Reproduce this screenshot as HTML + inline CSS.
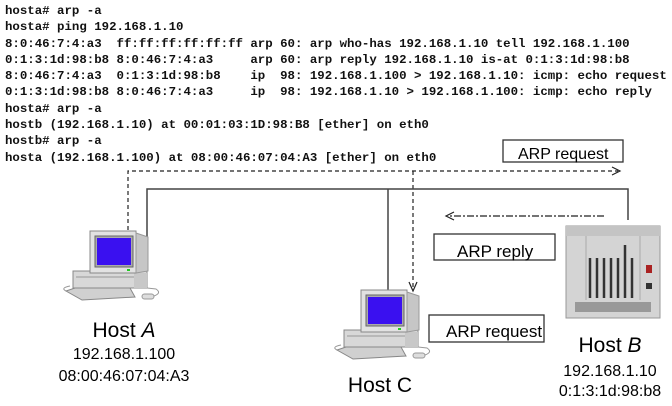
<!DOCTYPE html>
<html><head><meta charset="utf-8"><style>
html,body{margin:0;padding:0;background:#fff;width:672px;height:406px;overflow:hidden}
pre{position:absolute;left:5px;top:3px;margin:0;font-family:"Liberation Mono",monospace;font-weight:bold;font-size:12.4px;line-height:16.3px;color:#111}
svg{position:absolute;left:0;top:0}
</style></head><body>
<pre>hosta# arp -a
hosta# ping 192.168.1.10
8:0:46:7:4:a3  ff:ff:ff:ff:ff:ff arp 60: arp who-has 192.168.1.10 tell 192.168.1.100
0:1:3:1d:98:b8 8:0:46:7:4:a3     arp 60: arp reply 192.168.1.10 is-at 0:1:3:1d:98:b8
8:0:46:7:4:a3  0:1:3:1d:98:b8    ip  98: 192.168.1.100 &gt; 192.168.1.10: icmp: echo request
0:1:3:1d:98:b8 8:0:46:7:4:a3     ip  98: 192.168.1.10 &gt; 192.168.1.100: icmp: echo reply
hosta# arp -a
hostb (192.168.1.10) at 00:01:03:1D:98:B8 [ether] on eth0
hostb# arp -a
hosta (192.168.1.100) at 08:00:46:07:04:A3 [ether] on eth0</pre>
<svg width="672" height="406" font-family="Liberation Sans, sans-serif">
<defs>
<g id="pc">
 <rect x="-17" y="40" width="74" height="17" fill="#d8d8d8" stroke="#888"/>
 <line x1="-14" y1="46" x2="54" y2="46" stroke="#999"/>
 <rect x="44" y="42" width="13" height="15" fill="#c8c8c8"/>
 <rect x="0" y="0" width="46" height="42" fill="#e2e2e2" stroke="#888"/>
 <polygon points="46,2 58,6 58,40 46,42" fill="#c6c6c6" stroke="#999"/>
 <rect x="5" y="5" width="38" height="31" fill="#aaa" stroke="#666"/>
 <rect x="7" y="7" width="34" height="27" fill="#3a10f0"/>
 <rect x="37" y="38" width="3" height="2" fill="#2c2"/>
 <polygon points="-24,60 -15,57 40,57 45,66 -8,69" fill="#d0d0d0" stroke="#888"/>
 <path d="M-24 60 Q-30 57 -20 55" fill="none" stroke="#999"/>
 <rect x="52" y="63" width="12" height="5" rx="2.5" fill="#ddd" stroke="#999"/>
 <path d="M64 65 Q72 62 66 58 L57 57" fill="none" stroke="#999"/>
</g>
</defs>
<g fill="none" stroke="#333" stroke-width="1.3">
 <rect x="503" y="140" width="120" height="22"/>
 <rect x="434" y="234" width="121" height="26"/>
 <rect x="429" y="315" width="115" height="27"/>
</g>
<g font-size="16" fill="#000">
 <text x="518" y="159">ARP request</text>
 <text x="457" y="257" font-size="17">ARP reply</text>
 <text x="446" y="337" font-size="17">ARP request</text>
</g>
<g stroke="#222" fill="none" stroke-width="1.2">
 <path d="M128 230 V171 H618" stroke-dasharray="4,3"/>
 <path d="M612 167 L620 171 L612 175"/>
 <path d="M413 171 V288" stroke-dasharray="4,3"/>
 <path d="M409 282 L413 291 L417 282"/>
 <path d="M604 216 H448" stroke-dasharray="7,2,2,2"/>
 <path d="M454 212 L446 216 L454 220"/>
</g>
<g stroke="#444" fill="none" stroke-width="1.5">
 <path d="M147 245 V189 H628 V220"/>
 <path d="M388 189 V312"/>
</g>
<use href="#pc" x="90" y="231"/>
<use href="#pc" x="361" y="290"/>
<g>
 <rect x="566" y="226" width="94" height="92" fill="#d4d4d4" stroke="#999"/>
 <rect x="566" y="226" width="94" height="10" fill="#c4c4c4"/>
 <g stroke="#333" stroke-width="2.5">
  <line x1="590" y1="258" x2="590" y2="298"/><line x1="597" y1="258" x2="597" y2="298"/>
  <line x1="604" y1="258" x2="604" y2="298"/><line x1="611" y1="258" x2="611" y2="298"/>
  <line x1="618" y1="258" x2="618" y2="298"/><line x1="625" y1="245" x2="625" y2="298"/>
  <line x1="632" y1="258" x2="632" y2="298"/>
 </g>
 <g stroke="#aaa"><line x1="586" y1="236" x2="586" y2="300"/><line x1="640" y1="236" x2="640" y2="300"/></g>
 <rect x="646" y="265" width="6" height="8" fill="#a22"/>
 <rect x="646" y="283" width="6" height="6" fill="#333"/>
 <rect x="575" y="302" width="76" height="10" fill="#999"/>
</g>
<g text-anchor="middle" fill="#000">
 <text x="124" y="337" font-size="21">Host <tspan font-style="italic">A</tspan></text>
 <text x="124" y="359" font-size="16">192.168.1.100</text>
 <text x="124" y="381" font-size="16">08:00:46:07:04:A3</text>
 <text x="380" y="392" font-size="21">Host C</text>
 <text x="610" y="352" font-size="21">Host <tspan font-style="italic">B</tspan></text>
 <text x="610" y="376" font-size="16">192.168.1.10</text>
 <text x="610" y="396" font-size="16">0:1:3:1d:98:b8</text>
</g>
</svg>
</body></html>
